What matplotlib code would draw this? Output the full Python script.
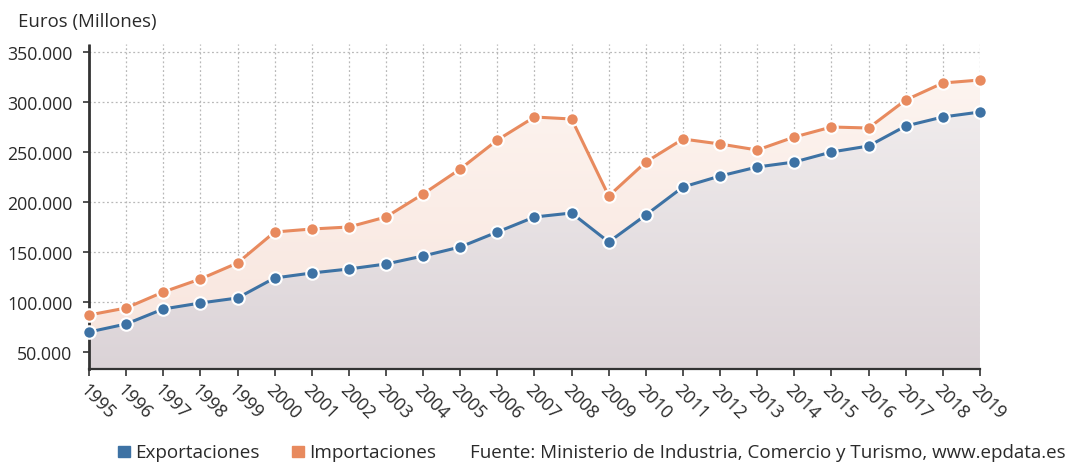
import numpy as np
import matplotlib
matplotlib.use("Agg")
import matplotlib.pyplot as plt
from matplotlib.colors import LinearSegmentedColormap
from matplotlib.patches import Rectangle

plt.rcParams["font.family"] = ["Open Sans", "DejaVu Sans"]

years = list(range(1995, 2020))
exportaciones = [70000, 78000, 93000, 99000, 104000, 124000, 129000, 133000,
                 138000, 146000, 155000, 170000, 185000, 189000, 160000,
                 187000, 215000, 226000, 235000, 240000, 250000, 256000,
                 276000, 285000, 290000]
importaciones = [87000, 94000, 110000, 123000, 139000, 170000, 173000, 175000,
                 185000, 208000, 233000, 262000, 285000, 283000, 206000,
                 240000, 263000, 258000, 252000, 265000, 275000, 274000,
                 302000, 319000, 322000]
y_ticks = [50000, 100000, 150000, 200000, 250000, 300000, 350000]
y_ticklabels = ["50.000", "100.000", "150.000", "200.000", "250.000",
                "300.000", "350.000"]

BLUE = "#3d72a4"
ORANGE = "#e88a5e"
TEXT = "#2a2a2a"
Y_MIN, Y_MAX = 33000, 358000


def gradient_fill(ax, x, y_top, y_bot, c_top, c_bot):
    """Fill between two curves with a vertical gradient."""
    poly = ax.fill_between(x, y_bot, y_top, color="none", lw=0)
    cmap = LinearSegmentedColormap.from_list("g", [c_bot, c_top])
    grad = np.linspace(0, 1, 256).reshape(-1, 1)
    im = ax.imshow(grad, cmap=cmap, aspect="auto", origin="lower",
                   extent=[x[0], x[-1], Y_MIN, Y_MAX], zorder=1)
    path = poly.get_paths()[0]
    im.set_clip_path(path, transform=ax.transData)


fig = plt.figure(figsize=(10.75, 4.64), dpi=100)
ax = fig.add_axes([0.0828, 0.2026, 0.8288, 0.7004])

gradient_fill(ax, years, importaciones, exportaciones, "#fdf6f2", "#f8e4dc")
gradient_fill(ax, years, exportaciones, [Y_MIN] * len(years), "#f5f2f2", "#dbd3d7")

ax.plot(years, importaciones, color=ORANGE, lw=2.2, marker="o", ms=9,
        mfc=ORANGE, mec="white", mew=1.5, zorder=4, clip_on=False)
ax.plot(years, exportaciones, color=BLUE, lw=2.2, marker="o", ms=9,
        mfc=BLUE, mec="white", mew=1.5, zorder=5, clip_on=False)

ax.set_xlim(1995, 2019)
ax.set_ylim(Y_MIN, Y_MAX)
ax.set_xticks(years)
ax.set_xticklabels([str(y) for y in years], rotation=-45, ha="left",
                   va="top", rotation_mode="anchor", fontsize=13, color=TEXT)
ax.set_yticks(y_ticks)
ax.set_yticklabels(y_ticklabels, fontsize=12.8, color=TEXT)

ax.grid(True, color="#b8b8b8", ls=(0, (1.5, 2)), lw=0.9, zorder=0)
ax.set_axisbelow(True)
for s in ["top", "right"]:
    ax.spines[s].set_visible(False)
ax.spines["left"].set_linestyle((0, (1.5, 1)))
ax.spines["left"].set_linewidth(2)
ax.spines["left"].set_color("#333333")
ax.spines["bottom"].set_linewidth(1.6)
ax.spines["bottom"].set_color("#333333")
ax.tick_params(axis="y", length=4, width=1.2, pad=8, color="#333333")
ax.tick_params(axis="x", length=5, width=1.2, pad=3, color="#333333")

fig.text(0.017, 0.952, "Euros (Millones)", fontsize=13.4, color=TEXT,
         va="center", ha="left")

# legend row
ly = 0.004
fig.patches.append(Rectangle((0.110, ly + 0.008), 0.0105, 0.024,
                             transform=fig.transFigure, color=BLUE))
fig.text(0.1255, ly, "Exportaciones", fontsize=13.6, color=TEXT, va="bottom")
fig.patches.append(Rectangle((0.272, ly + 0.008), 0.0105, 0.024,
                             transform=fig.transFigure, color=ORANGE))
fig.text(0.2875, ly, "Importaciones", fontsize=13.6, color=TEXT, va="bottom")
fig.text(0.437, ly, "Fuente: Ministerio de Industria, Comercio y Turismo, www.epdata.es",
         fontsize=13.5, color=TEXT, va="bottom")

fig.savefig("out.png", dpi=100)
